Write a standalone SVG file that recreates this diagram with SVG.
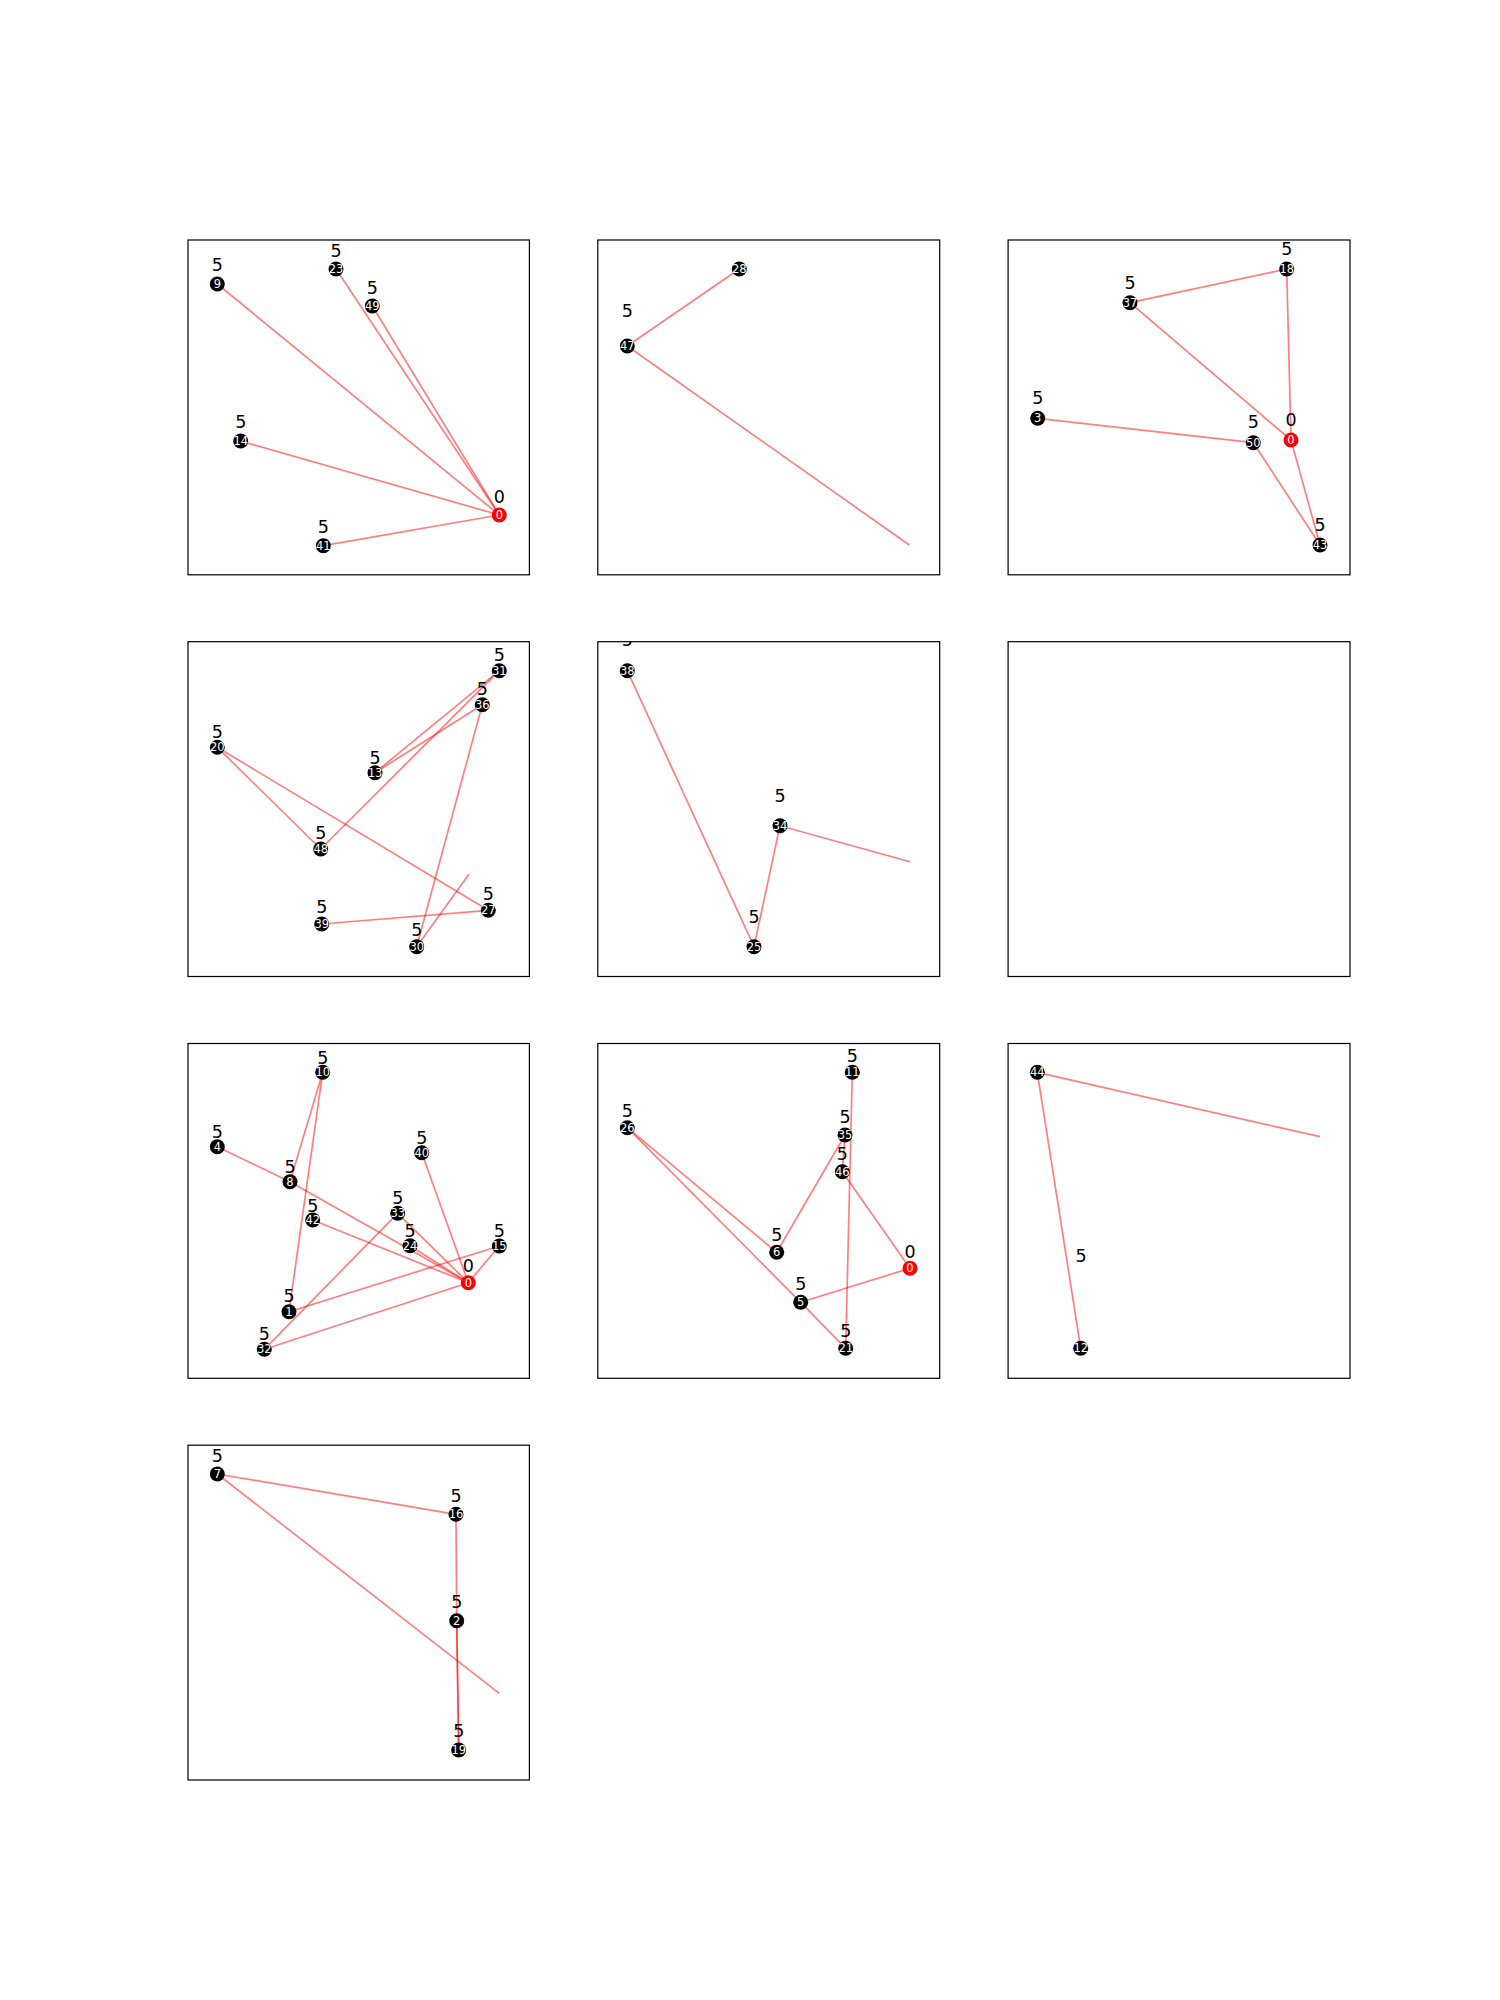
<svg xmlns="http://www.w3.org/2000/svg" width="1500" height="2000" viewBox="0 0 1500 2000">
<style>
.frame{fill:none;stroke:#000;stroke-width:1.2}
.e{stroke:#ff0000;stroke-opacity:0.5;stroke-width:1.7;fill:none}
.n{fill:#000}
.r{fill:#ff0000}
.t{font-family:"DejaVu Sans",sans-serif;font-size:11.5px;fill:#fff;text-anchor:middle}
.l{font-family:"DejaVu Sans",sans-serif;font-size:17.5px;fill:#000;text-anchor:middle}
</style>
<defs>
<clipPath id="c5"><rect x="597.8" y="641.7" width="341.9" height="334.8"/></clipPath>
</defs>
<rect width="1500" height="2000" fill="#fff"/>
<g id="frames">
<rect class="frame" x="188" y="240" width="341.4" height="334.8"/>
<rect class="frame" x="597.8" y="240" width="341.9" height="334.8"/>
<rect class="frame" x="1008.1" y="240" width="341.9" height="334.8"/>
<rect class="frame" x="188" y="641.7" width="341.4" height="334.8"/>
<rect class="frame" x="597.8" y="641.7" width="341.9" height="334.8"/>
<rect class="frame" x="1008.1" y="641.7" width="341.9" height="334.8"/>
<rect class="frame" x="188" y="1043.5" width="341.4" height="334.8"/>
<rect class="frame" x="597.8" y="1043.5" width="341.9" height="334.8"/>
<rect class="frame" x="1008.1" y="1043.5" width="341.9" height="334.8"/>
<rect class="frame" x="188" y="1445.2" width="341.4" height="334.8"/>
</g>
<g id="connectors">
<line class="e" x1="217.3" y1="284" x2="499.3" y2="515"/>
<line class="e" x1="336" y1="269" x2="499.3" y2="515"/>
<line class="e" x1="372.3" y1="306" x2="499.3" y2="515"/>
<line class="e" x1="240.7" y1="441" x2="499.3" y2="515"/>
<line class="e" x1="323.3" y1="545.7" x2="499.3" y2="515"/>
<line class="e" x1="627.3" y1="346" x2="739.3" y2="269"/>
<line class="e" x1="627.3" y1="346" x2="909.3" y2="545"/>
<line class="e" x1="1130" y1="302.7" x2="1286.7" y2="269"/>
<line class="e" x1="1286.7" y1="269" x2="1291" y2="440"/>
<line class="e" x1="1130" y1="302.7" x2="1291" y2="440"/>
<line class="e" x1="1037.7" y1="418.3" x2="1253.3" y2="442.7"/>
<line class="e" x1="1253.3" y1="442.7" x2="1320" y2="545"/>
<line class="e" x1="1291" y1="440" x2="1320" y2="545"/>
<line class="e" x1="375" y1="772.7" x2="499.3" y2="670.7"/>
<line class="e" x1="375" y1="772.7" x2="482.3" y2="704.7"/>
<line class="e" x1="320.7" y1="849" x2="499.3" y2="670.7"/>
<line class="e" x1="482.3" y1="704.7" x2="416.7" y2="946.7"/>
<line class="e" x1="217.3" y1="747.3" x2="320.7" y2="849"/>
<line class="e" x1="217.3" y1="747.3" x2="488.3" y2="910.3"/>
<line class="e" x1="488.3" y1="910.3" x2="321.7" y2="924"/>
<line class="e" x1="416.7" y1="946.7" x2="469" y2="874.3"/>
<line class="e" x1="627.3" y1="670.7" x2="754" y2="946.7"/>
<line class="e" x1="754" y1="946.7" x2="780" y2="825.7"/>
<line class="e" x1="780" y1="825.7" x2="910" y2="861.7"/>
<line class="e" x1="322.7" y1="1072.3" x2="290" y2="1181.7"/>
<line class="e" x1="322.7" y1="1072.3" x2="289" y2="1311.7"/>
<line class="e" x1="217.3" y1="1146.7" x2="290" y2="1181.7"/>
<line class="e" x1="290" y1="1181.7" x2="468.3" y2="1282.7"/>
<line class="e" x1="312.7" y1="1220" x2="468.3" y2="1282.7"/>
<line class="e" x1="397.7" y1="1213.3" x2="468.3" y2="1282.7"/>
<line class="e" x1="410" y1="1245.7" x2="468.3" y2="1282.7"/>
<line class="e" x1="421.7" y1="1152.7" x2="468.3" y2="1282.7"/>
<line class="e" x1="499.3" y1="1246" x2="468.3" y2="1282.7"/>
<line class="e" x1="289" y1="1311.7" x2="499.3" y2="1246"/>
<line class="e" x1="264.3" y1="1349.3" x2="468.3" y2="1282.7"/>
<line class="e" x1="264.3" y1="1349.3" x2="397.7" y2="1213.3"/>
<line class="e" x1="627.3" y1="1127.7" x2="776.7" y2="1252.3"/>
<line class="e" x1="627.3" y1="1127.7" x2="800.7" y2="1302.3"/>
<line class="e" x1="800.7" y1="1302.3" x2="845.7" y2="1348.3"/>
<line class="e" x1="800.7" y1="1302.3" x2="910" y2="1268.3"/>
<line class="e" x1="776.7" y1="1252.3" x2="845" y2="1135"/>
<line class="e" x1="845" y1="1135" x2="842.3" y2="1171.7"/>
<line class="e" x1="842.3" y1="1171.7" x2="910" y2="1268.3"/>
<line class="e" x1="852.3" y1="1072.3" x2="845.7" y2="1348.3"/>
<line class="e" x1="1037.3" y1="1072.3" x2="1080.7" y2="1348.3"/>
<line class="e" x1="1037.3" y1="1072.3" x2="1320" y2="1136.7"/>
<line class="e" x1="217.3" y1="1474" x2="456" y2="1514.3"/>
<line class="e" x1="217.3" y1="1474" x2="499.3" y2="1693.3"/>
<line class="e" x1="456" y1="1514.3" x2="456.7" y2="1620.7"/>
<line class="e" x1="456.7" y1="1620.7" x2="458.7" y2="1750"/>
<line class="e" x1="456.7" y1="1620.7" x2="458.7" y2="1750"/>
</g>
<g id="n1-9"><circle class="n" cx="217.3" cy="284" r="7.5"/><text class="t" x="217.3" y="288">9</text><text class="l" x="217.3" y="271">5</text></g>
<g id="n1-23"><circle class="n" cx="336" cy="269" r="7.5"/><text class="t" x="336" y="273">23</text><text class="l" x="336" y="256.7">5</text></g>
<g id="n1-49"><circle class="n" cx="372.3" cy="306" r="7.5"/><text class="t" x="372.3" y="310">49</text><text class="l" x="372.3" y="293.7">5</text></g>
<g id="n1-14"><circle class="n" cx="240.7" cy="441" r="7.5"/><text class="t" x="240.7" y="445">14</text><text class="l" x="240.7" y="428">5</text></g>
<g id="n1-0"><circle class="r" cx="499.3" cy="515" r="7.5"/><text class="t" x="499.3" y="519">0</text><text class="l" x="499.3" y="502.7">0</text></g>
<g id="n1-41"><circle class="n" cx="323.3" cy="545.7" r="7.5"/><text class="t" x="323.3" y="549.7">41</text><text class="l" x="323.3" y="532.7">5</text></g>
<g id="n2-28"><circle class="n" cx="739.3" cy="269" r="7.5"/><text class="t" x="739.3" y="273">28</text></g>
<g id="n2-47"><circle class="n" cx="627.3" cy="346" r="7.5"/><text class="t" x="627.3" y="350">47</text><text class="l" x="627.3" y="317">5</text></g>
<g id="n3-18"><circle class="n" cx="1286.7" cy="269" r="7.5"/><text class="t" x="1286.7" y="273">18</text><text class="l" x="1286.7" y="255">5</text></g>
<g id="n3-37"><circle class="n" cx="1130" cy="302.7" r="7.5"/><text class="t" x="1130" y="306.7">37</text><text class="l" x="1130" y="288.7">5</text></g>
<g id="n3-3"><circle class="n" cx="1037.7" cy="418.3" r="7.5"/><text class="t" x="1037.7" y="422.3">3</text><text class="l" x="1037.7" y="403.7">5</text></g>
<g id="n3-50"><circle class="n" cx="1253.3" cy="442.7" r="7.5"/><text class="t" x="1253.3" y="446.7">50</text><text class="l" x="1253.3" y="428.3">5</text></g>
<g id="n3-0"><circle class="r" cx="1291" cy="440" r="7.5"/><text class="t" x="1291" y="444">0</text><text class="l" x="1291" y="426">0</text></g>
<g id="n3-43"><circle class="n" cx="1320" cy="545" r="7.5"/><text class="t" x="1320" y="549">43</text><text class="l" x="1320" y="531">5</text></g>
<g id="n4-31"><circle class="n" cx="499.3" cy="670.7" r="7.5"/><text class="t" x="499.3" y="674.7">31</text><text class="l" x="499.3" y="661">5</text></g>
<g id="n4-36"><circle class="n" cx="482.3" cy="704.7" r="7.5"/><text class="t" x="482.3" y="708.7">36</text><text class="l" x="482.3" y="695">5</text></g>
<g id="n4-20"><circle class="n" cx="217.3" cy="747.3" r="7.5"/><text class="t" x="217.3" y="751.3">20</text><text class="l" x="217.3" y="737.7">5</text></g>
<g id="n4-13"><circle class="n" cx="375" cy="772.7" r="7.5"/><text class="t" x="375" y="776.7">13</text><text class="l" x="375" y="764.3">5</text></g>
<g id="n4-48"><circle class="n" cx="320.7" cy="849" r="7.5"/><text class="t" x="320.7" y="853">48</text><text class="l" x="320.7" y="838.7">5</text></g>
<g id="n4-27"><circle class="n" cx="488.3" cy="910.3" r="7.5"/><text class="t" x="488.3" y="914.3">27</text><text class="l" x="488.3" y="900">5</text></g>
<g id="n4-39"><circle class="n" cx="321.7" cy="924" r="7.5"/><text class="t" x="321.7" y="928">39</text><text class="l" x="321.7" y="913.3">5</text></g>
<g id="n4-30"><circle class="n" cx="416.7" cy="946.7" r="7.5"/><text class="t" x="416.7" y="950.7">30</text><text class="l" x="416.7" y="936.3">5</text></g>
<g id="n5-38"><circle class="n" cx="627.3" cy="670.7" r="7.5"/><text class="t" x="627.3" y="674.7">38</text><text class="l" x="627.3" y="646.3" clip-path="url(#c5)">5</text></g>
<g id="n5-34"><circle class="n" cx="780" cy="825.7" r="7.5"/><text class="t" x="780" y="829.7">34</text><text class="l" x="780" y="801.7">5</text></g>
<g id="n5-25"><circle class="n" cx="754" cy="946.7" r="7.5"/><text class="t" x="754" y="950.7">25</text><text class="l" x="754" y="923.3">5</text></g>
<g id="n7-10"><circle class="n" cx="322.7" cy="1072.3" r="7.5"/><text class="t" x="322.7" y="1076.3">10</text><text class="l" x="322.7" y="1063.7">5</text></g>
<g id="n7-4"><circle class="n" cx="217.3" cy="1146.7" r="7.5"/><text class="t" x="217.3" y="1150.7">4</text><text class="l" x="217.3" y="1137.7">5</text></g>
<g id="n7-40"><circle class="n" cx="421.7" cy="1152.7" r="7.5"/><text class="t" x="421.7" y="1156.7">40</text><text class="l" x="421.7" y="1144.3">5</text></g>
<g id="n7-8"><circle class="n" cx="290" cy="1181.7" r="7.5"/><text class="t" x="290" y="1185.7">8</text><text class="l" x="290" y="1173.3">5</text></g>
<g id="n7-33"><circle class="n" cx="397.7" cy="1213.3" r="7.5"/><text class="t" x="397.7" y="1217.3">33</text><text class="l" x="397.7" y="1204.3">5</text></g>
<g id="n7-42"><circle class="n" cx="312.7" cy="1220" r="7.5"/><text class="t" x="312.7" y="1224">42</text><text class="l" x="312.7" y="1211.7">5</text></g>
<g id="n7-24"><circle class="n" cx="410" cy="1245.7" r="7.5"/><text class="t" x="410" y="1249.7">24</text><text class="l" x="410" y="1237">5</text></g>
<g id="n7-15"><circle class="n" cx="499.3" cy="1246" r="7.5"/><text class="t" x="499.3" y="1250">15</text><text class="l" x="499.3" y="1237">5</text></g>
<g id="n7-0"><circle class="r" cx="468.3" cy="1282.7" r="7.5"/><text class="t" x="468.3" y="1286.7">0</text><text class="l" x="468.3" y="1272">0</text></g>
<g id="n7-1"><circle class="n" cx="289" cy="1311.7" r="7.5"/><text class="t" x="289" y="1315.7">1</text><text class="l" x="289" y="1301.7">5</text></g>
<g id="n7-32"><circle class="n" cx="264.3" cy="1349.3" r="7.5"/><text class="t" x="264.3" y="1353.3">32</text><text class="l" x="264.3" y="1340">5</text></g>
<g id="n8-11"><circle class="n" cx="852.3" cy="1072.3" r="7.5"/><text class="t" x="852.3" y="1076.3">11</text><text class="l" x="852.3" y="1061.7">5</text></g>
<g id="n8-26"><circle class="n" cx="627.3" cy="1127.7" r="7.5"/><text class="t" x="627.3" y="1131.7">26</text><text class="l" x="627.3" y="1117">5</text></g>
<g id="n8-35"><circle class="n" cx="845" cy="1135" r="7.5"/><text class="t" x="845" y="1139">35</text><text class="l" x="845" y="1122.7">5</text></g>
<g id="n8-46"><circle class="n" cx="842.3" cy="1171.7" r="7.5"/><text class="t" x="842.3" y="1175.7">46</text><text class="l" x="842.3" y="1160">5</text></g>
<g id="n8-6"><circle class="n" cx="776.7" cy="1252.3" r="7.5"/><text class="t" x="776.7" y="1256.3">6</text><text class="l" x="776.7" y="1241">5</text></g>
<g id="n8-0"><circle class="r" cx="910" cy="1268.3" r="7.5"/><text class="t" x="910" y="1272.3">0</text><text class="l" x="910" y="1257.7">0</text></g>
<g id="n8-5"><circle class="n" cx="800.7" cy="1302.3" r="7.5"/><text class="t" x="800.7" y="1306.3">5</text><text class="l" x="800.7" y="1290.3">5</text></g>
<g id="n8-21"><circle class="n" cx="845.7" cy="1348.3" r="7.5"/><text class="t" x="845.7" y="1352.3">21</text><text class="l" x="845.7" y="1337">5</text></g>
<g id="n9-44"><circle class="n" cx="1037.3" cy="1072.3" r="7.5"/><text class="t" x="1037.3" y="1076.3">44</text></g>
<g id="n9-12"><circle class="n" cx="1080.7" cy="1348.3" r="7.5"/><text class="t" x="1080.7" y="1352.3">12</text><text class="l" x="1081" y="1261.7">5</text></g>
<g id="n10-7"><circle class="n" cx="217.3" cy="1474" r="7.5"/><text class="t" x="217.3" y="1478">7</text><text class="l" x="217.3" y="1461.7">5</text></g>
<g id="n10-16"><circle class="n" cx="456" cy="1514.3" r="7.5"/><text class="t" x="456" y="1518.3">16</text><text class="l" x="456" y="1501.7">5</text></g>
<g id="n10-2"><circle class="n" cx="456.7" cy="1620.7" r="7.5"/><text class="t" x="456.7" y="1624.7">2</text><text class="l" x="456.7" y="1607.7">5</text></g>
<g id="n10-19"><circle class="n" cx="458.7" cy="1750" r="7.5"/><text class="t" x="458.7" y="1754">19</text><text class="l" x="458.7" y="1737">5</text></g>
</svg>
